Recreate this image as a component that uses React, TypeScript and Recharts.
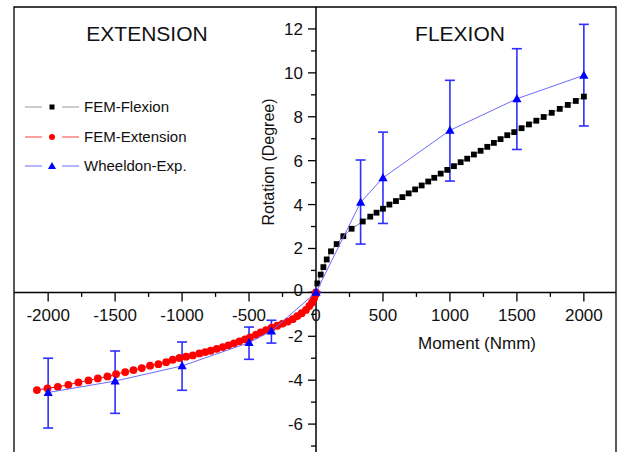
import {
  ScatterChart, Scatter, XAxis, YAxis, ErrorBar,
  ReferenceLine, ReferenceArea, ReferenceDot,
} from "recharts";

// FEM flexion (black squares), moment in Nmm, rotation in degrees
const flexMoment = [
  0, 10, 35, 55, 80, 112, 154, 204, 266, 349, 405, 452, 500, 548, 597, 645,
  692, 740, 789, 838, 883, 931, 980, 1030, 1080, 1129, 1179, 1229, 1279, 1328,
  1378, 1428, 1480, 1535, 1590, 1645, 1700, 1760, 1820, 1880, 1940, 2000,
];
const flexRotation = [
  0, 0.41, 0.81, 1.15, 1.5, 1.87, 2.2, 2.56, 2.9, 3.23, 3.45, 3.63, 3.81, 4.0, 4.16, 4.34,
  4.51, 4.69, 4.87, 5.05, 5.22, 5.41, 5.58, 5.75, 5.93, 6.09, 6.28, 6.45, 6.63, 6.81,
  6.98, 7.16, 7.3, 7.48, 7.65, 7.82, 7.99, 8.18, 8.36, 8.54, 8.72, 8.92,
];

// FEM extension (red circles)
const extMoment = [
  -2084, -2005, -1928, -1849, -1774, -1699, -1629, -1557, -1493, -1425, -1363,
  -1301, -1239, -1177, -1119, -1070, -1020, -970, -920, -871, -828, -786, -741,
  -696, -654, -612, -572, -530, -493, -448, -413, -373, -331, -289, -249, -211,
  -174, -140, -107, -75, -50, -30, -15, -2, 0,
];
const extRotation = [
  -4.45, -4.37, -4.3, -4.21, -4.1, -4.01, -3.92, -3.83, -3.72, -3.63, -3.54,
  -3.45, -3.34, -3.27, -3.18, -3.07, -2.99, -2.93, -2.87, -2.78, -2.72, -2.66, -2.57,
  -2.49, -2.41, -2.32, -2.23, -2.14, -2.05, -1.93, -1.82, -1.72, -1.61, -1.52, -1.42, -1.33,
  -1.22, -1.08, -0.95, -0.8, -0.62, -0.46, -0.28, -0.08, 0,
];

// Wheeldon experiment (blue triangles) with error bar bounds
const expMoment = [-2000, -1500, -1000, -500, -333, 0, 333, 500, 1000, 1500, 2000];
const expRotation = [-4.56, -4.04, -3.35, -2.29, -1.76, 0, 4.1, 5.22, 7.38, 8.82, 9.89];
const expUpper = [-3.0, -2.67, -2.26, -1.58, -1.27, 0, 6.03, 7.3, 9.66, 11.1, 12.21];
const expLower = [-6.18, -5.51, -4.46, -3.05, -2.31, 0, 2.2, 3.14, 5.07, 6.51, 7.58];

const xMajorTicks = [-2000, -1500, -1000, -500, 0, 500, 1000, 1500, 2000];
const xMinorTicks = [-1750, -1250, -750, -250, 250, 750, 1250, 1750];
const yMajorTicks = [-6, -4, -2, 0, 2, 4, 6, 8, 10, 12];
const yMinorTicks = [-7, -5, -3, -1, 1, 3, 5, 7, 9, 11];

const flexData = flexMoment.map((x, i) => ({ x, y: flexRotation[i] }));
const extData = extMoment.map((x, i) => ({ x, y: extRotation[i] }));
const expData = expMoment.map((x, i) => ({
  x,
  y: expRotation[i],
  err: [expRotation[i] - expLower[i], expUpper[i] - expRotation[i]],
}));

const FONT = "'Liberation Sans', Arial, Helvetica, sans-serif";

const Square = (p: any) => (
  <rect x={p.cx - 2.9} y={p.cy - 2.9} width={5.8} height={5.8} fill="#000" />
);
const Circle = (p: any) => <circle cx={p.cx} cy={p.cy} r={3.9} fill="#ff0000" />;
const Triangle = (p: any) => (
  <polygon
    points={`${p.cx},${p.cy - 4.8} ${p.cx - 4.6},${p.cy + 3.4} ${p.cx + 4.6},${p.cy + 3.4}`}
    fill="#0000ff"
  />
);

const xTick = (v: number, major: boolean) => (p: any) => (
  <g>
    <line x1={p.cx} y1={p.cy} x2={p.cx} y2={p.cy + (major ? 9 : 4.5)} stroke="#000" strokeWidth={1.3} />
    {major && (
      <text x={p.cx} y={p.cy + 29} textAnchor="middle" fontSize={17} fontFamily={FONT} fill="#111">
        {v}
      </text>
    )}
  </g>
);

const yTick = (v: number, major: boolean) => (p: any) => (
  <g>
    <line x1={p.cx} y1={p.cy} x2={p.cx - (major ? 8 : 5)} y2={p.cy} stroke="#000" strokeWidth={1.3} />
    {major && (
      <text x={p.cx - 13} y={p.cy + (v === 0 ? 4 : 6)} textAnchor="end" fontSize={17} fontFamily={FONT} fill="#111">
        {v}
      </text>
    )}
  </g>
);

const legendRows = [
  { name: "FEM-Flexion", line: "#9a9a9a", y: 107, kind: "square" },
  { name: "FEM-Extension", line: "#ff4040", y: 137, kind: "circle" },
  { name: "Wheeldon-Exp.", line: "#6a6aff", y: 166, kind: "triangle" },
];

export default function App() {
  return (
    <div style={{ position: "absolute", left: 0, top: 0, width: 623, height: 452, overflow: "hidden", background: "#fff" }}>
      <ScatterChart width={623} height={480} margin={{ top: 7, right: 7, left: 14, bottom: 12 }}>
        <XAxis type="number" dataKey="x" domain={[-2255, 2240]} allowDataOverflow hide />
        <YAxis type="number" dataKey="y" domain={[-8, 13]} allowDataOverflow hide />
        <ReferenceArea x1={-2255} x2={2240} y1={-8} y2={13} fill="none" stroke="#000" strokeWidth={1.3} />
        <ReferenceLine y={0} stroke="#000" strokeWidth={1.5} />
        <ReferenceLine x={0} stroke="#000" strokeWidth={1.5} />
        {xMajorTicks.map((v) => (
          <ReferenceDot key={"xm" + v} x={v} y={0} r={1} shape={xTick(v, true)} />
        ))}
        {xMinorTicks.map((v) => (
          <ReferenceDot key={"xn" + v} x={v} y={0} r={1} shape={xTick(v, false)} />
        ))}
        {yMajorTicks.map((v) => (
          <ReferenceDot key={"ym" + v} x={0} y={v} r={1} shape={yTick(v, true)} />
        ))}
        {yMinorTicks.map((v) => (
          <ReferenceDot key={"yn" + v} x={0} y={v} r={1} shape={yTick(v, false)} />
        ))}
        <Scatter
          data={flexData}
          line={{ stroke: "#808080", strokeWidth: 1 }}
          shape={Square}
          isAnimationActive={false}
        />
        <Scatter
          data={extData}
          line={{ stroke: "#ff0000", strokeWidth: 1 }}
          shape={Circle}
          isAnimationActive={false}
        />
        <Scatter
          data={expData}
          line={{ stroke: "#6b6bff", strokeWidth: 1 }}
          shape={Triangle}
          isAnimationActive={false}
        >
          <ErrorBar dataKey="err" direction="y" width={5} stroke="#2f2fff" strokeWidth={1.6} />
        </Scatter>
      </ScatterChart>
      <svg width={623} height={452} style={{ position: "absolute", left: 0, top: 0, pointerEvents: "none" }}>
        <text x={147} y={40.5} textAnchor="middle" fontSize={21} fontFamily={FONT} fill="#111">EXTENSION</text>
        <text x={460} y={40.5} textAnchor="middle" fontSize={21} fontFamily={FONT} fill="#111">FLEXION</text>
        <text x={477} y={349} textAnchor="middle" fontSize={17} fontFamily={FONT} fill="#111">Moment (Nmm)</text>
        <text x={268} y={167.7} textAnchor="middle" fontSize={16} fontFamily={FONT} fill="#111" transform="rotate(-90 268 162)">
          Rotation (Degree)
        </text>
        {legendRows.map((r) => (
          <g key={r.name}>
            <line x1={25} y1={r.y} x2={42} y2={r.y} stroke={r.line} strokeWidth={1} />
            <line x1={62} y1={r.y} x2={79} y2={r.y} stroke={r.line} strokeWidth={1} />
            {r.kind === "square" && <rect x={49.5} y={r.y - 2.5} width={5} height={5} fill="#000" />}
            {r.kind === "circle" && <circle cx={52} cy={r.y} r={3} fill="#ff0000" />}
            {r.kind === "triangle" && (
              <polygon points={`52,${r.y - 4} 48,${r.y + 3} 56,${r.y + 3}`} fill="#0000ff" />
            )}
            <text x={84} y={r.y + 5.4} fontSize={15} fontFamily={FONT} fill="#111">{r.name}</text>
          </g>
        ))}
      </svg>
    </div>
  );
}
